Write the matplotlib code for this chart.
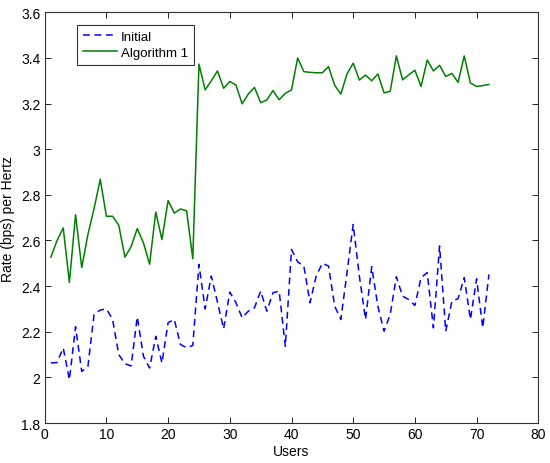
import matplotlib
matplotlib.use("Agg")
import matplotlib.pyplot as plt

plt.rcParams['font.family'] = ['Liberation Sans', 'DejaVu Sans']

users = list(range(1, 73))

initial = [2.063, 2.065, 2.129, 1.99, 2.222, 2.026, 2.048, 2.276, 2.295, 2.30,
           2.254, 2.10, 2.06, 2.05, 2.265, 2.093, 2.041, 2.18, 2.063, 2.24,
           2.254, 2.144, 2.13, 2.14, 2.495, 2.30, 2.444, 2.33, 2.213, 2.374,
           2.327, 2.261, 2.29, 2.305, 2.378, 2.29, 2.371, 2.378, 2.136, 2.561,
           2.506, 2.488, 2.327, 2.444, 2.50, 2.488, 2.312, 2.254, 2.46, 2.67,
           2.444, 2.254, 2.485, 2.312, 2.202, 2.276, 2.441, 2.356, 2.341, 2.315,
           2.437, 2.459, 2.217, 2.576, 2.202, 2.334, 2.345, 2.437, 2.254, 2.432,
           2.217, 2.451]

algorithm1 = [2.527, 2.60, 2.655, 2.416, 2.713, 2.481, 2.626, 2.74, 2.868, 2.706,
              2.706, 2.667, 2.527, 2.573, 2.652, 2.59, 2.496, 2.725, 2.604, 2.775,
              2.72, 2.738, 2.73, 2.52, 3.373, 3.26, 3.30, 3.343, 3.267, 3.297,
              3.281, 3.199, 3.242, 3.271, 3.204, 3.216, 3.257, 3.217, 3.245, 3.26,
              3.40, 3.34, 3.337, 3.335, 3.335, 3.362, 3.28, 3.242, 3.33, 3.377,
              3.303, 3.325, 3.30, 3.33, 3.247, 3.254, 3.409, 3.304, 3.326, 3.346,
              3.275, 3.391, 3.343, 3.368, 3.319, 3.332, 3.293, 3.409, 3.29, 3.275,
              3.279, 3.284]

xticks = [0, 10, 20, 30, 40, 50, 60, 70, 80]
yticks = [1.8, 2.0, 2.2, 2.4, 2.6, 2.8, 3.0, 3.2, 3.4, 3.6]
ytick_labels = ['1.8', '2', '2.2', '2.4', '2.6', '2.8', '3', '3.2', '3.4', '3.6']

fig = plt.figure(figsize=(5.5, 4.64), dpi=100)
ax = fig.add_axes([0.0813, 0.0862, 0.8974, 0.8851])

ax.plot(users, initial, linestyle=(0, (4.5, 3)), color='#0000FF', linewidth=1.1,
        label='Initial')
ax.plot(users, algorithm1, linestyle='-', color='#008000', linewidth=1.1,
        label='Algorithm 1')

ax.set_xlim(0, 80)
ax.set_ylim(1.8, 3.6)
ax.set_xticks(xticks)
ax.set_yticks(yticks)
ax.set_yticklabels(ytick_labels)
ax.tick_params(direction='in', top=True, right=True, labelsize=10, length=4,
               width=0.6, pad=3)
for s in ax.spines.values():
    s.set_linewidth(0.8)
    s.set_color('#333333')

ax.set_xlabel('Users', fontsize=10, labelpad=2)
ax.set_ylabel('Rate (bps) per Hertz', fontsize=10, labelpad=4)

leg = ax.legend(loc='upper left', bbox_to_anchor=(0.0648, 0.970), fontsize=9.5,
                fancybox=False, edgecolor='#333333', framealpha=1,
                handlelength=2.6, borderpad=0.45, labelspacing=0.3,
                handletextpad=0.3, borderaxespad=0)
leg.get_frame().set_linewidth(0.8)

fig.savefig('out.png', dpi=100)
